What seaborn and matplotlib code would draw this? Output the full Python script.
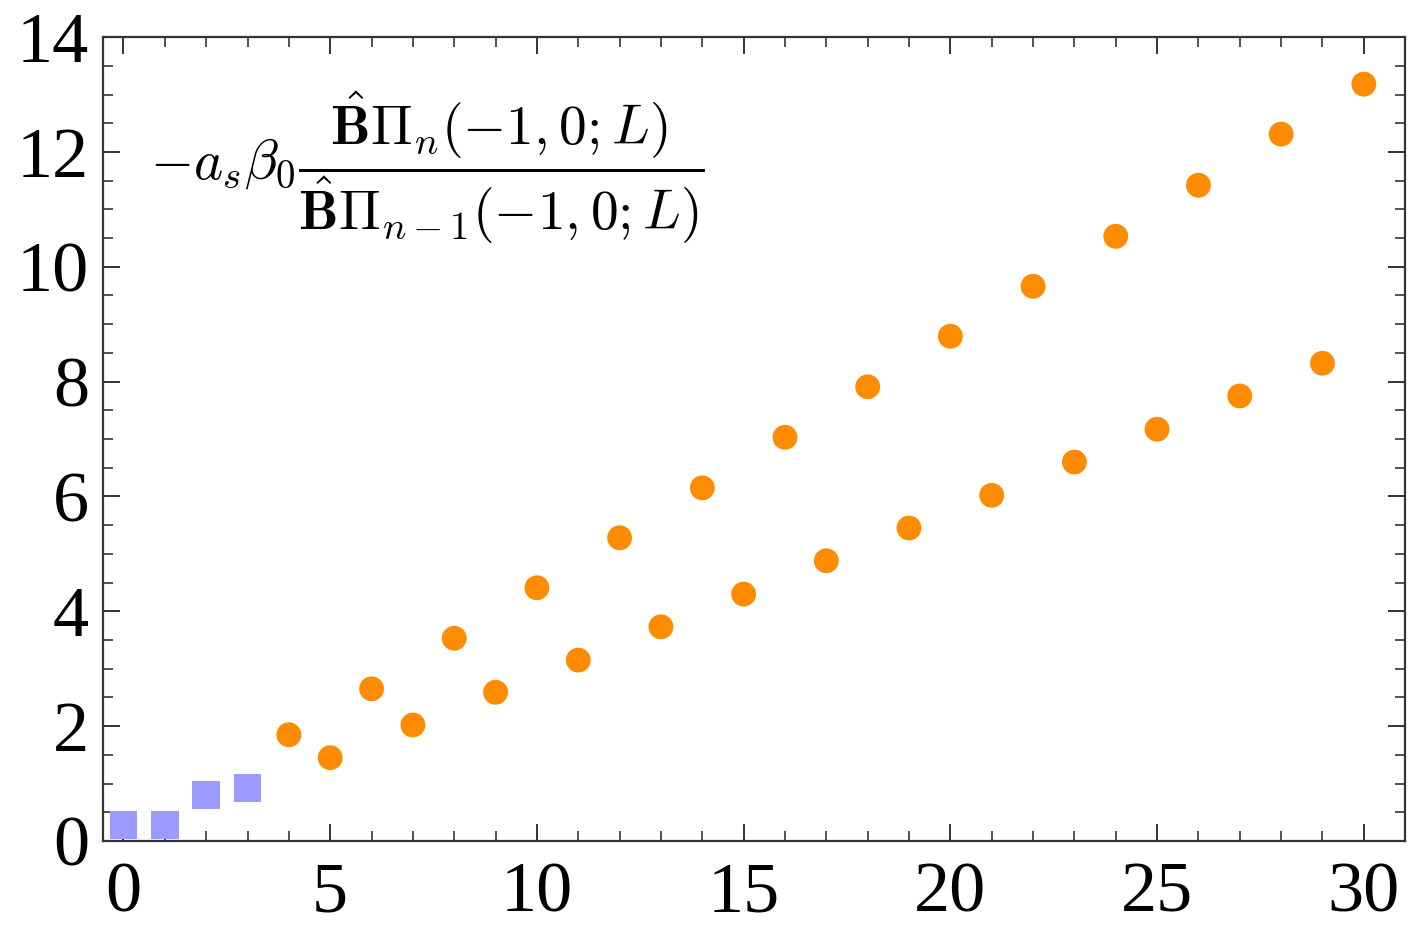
import numpy as np
import pandas as pd
import seaborn as sns
import matplotlib.pyplot as plt
from matplotlib.ticker import MultipleLocator

# --- data ---
n_exact = [0, 1, 2, 3]
r_exact = [0.28, 0.28, 0.80, 0.92]

n_approx = list(range(4, 31))
r_approx = [1.85, 1.45, 2.65, 2.02, 3.53, 2.59, 4.41, 3.15, 5.28, 3.73,
            6.15, 4.30, 7.03, 4.88, 7.91, 5.45, 8.79, 6.02, 9.66, 6.60,
            10.53, 7.17, 11.42, 7.75, 12.31, 8.32, 13.18]

x_ticks = [0, 5, 10, 15, 20, 25, 30]
y_ticks = [0, 2, 4, 6, 8, 10, 12, 14]

sns.set_style("ticks")
plt.rcParams['font.family'] = ['Liberation Serif', 'DejaVu Serif']
plt.rcParams['mathtext.fontset'] = 'cm'

fig = plt.figure(figsize=(14.28, 9.27), dpi=100)
ax = fig.add_axes([0.072, 0.0928, 0.912, 0.8672])

df_sq = pd.DataFrame({'n': n_exact, 'r': r_exact})
df_ci = pd.DataFrame({'n': n_approx, 'r': r_approx})

sns.scatterplot(data=df_sq, x='n', y='r', marker='s', s=400, color='#9b9bff',
                edgecolor='none', ax=ax, zorder=3)
sns.scatterplot(data=df_ci, x='n', y='r', marker='o', s=320, color='#ff8c00',
                edgecolor='none', ax=ax, zorder=3)

ax.set_xlim(-0.5, 31)
ax.set_ylim(0, 14)
ax.set_xticks(x_ticks)
ax.set_yticks(y_ticks)
ax.xaxis.set_minor_locator(MultipleLocator(1))
ax.yaxis.set_minor_locator(MultipleLocator(0.5))
ax.tick_params(which='both', direction='in', top=True, right=True,
               labelsize=52, color='#333333', labelcolor='black')
ax.tick_params(which='major', length=12, width=1.4)
ax.tick_params(axis='x', which='major', pad=15)
ax.tick_params(axis='y', which='major', pad=10)
ax.tick_params(which='minor', length=7, width=1.2)
ax.set_xlabel('')
ax.set_ylabel('')
for sp in ax.spines.values():
    sp.set_linewidth(1.6)
    sp.set_color('#333333')

ax.text(0.036, 0.837,
        r'$-a_s\beta_0\dfrac{\hat{\mathbf{B}}\Pi_n(-1,0;L)}{\hat{\mathbf{B}}\Pi_{n-1}(-1,0;L)}$',
        transform=ax.transAxes, ha='left', va='center', fontsize=40, color='black')

fig.savefig('out.png', dpi=100)
